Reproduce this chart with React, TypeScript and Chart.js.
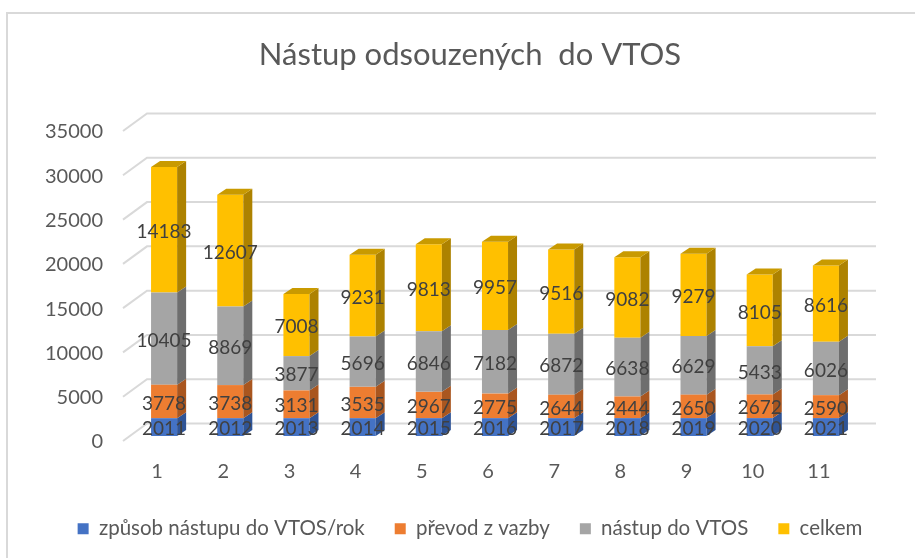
import React, { useEffect, useRef } from "react";
import { Chart, registerables } from "chart.js";

Chart.register(...registerables);

// ---- data ----
const categories = ["1", "2", "3", "4", "5", "6", "7", "8", "9", "10", "11"];
const seriesNames = ["způsob nástupu do VTOS/rok", "převod z vazby", "nástup do VTOS", "celkem"];
const rokValues = [2011, 2012, 2013, 2014, 2015, 2016, 2017, 2018, 2019, 2020, 2021];
const prevodValues = [3778, 3738, 3131, 3535, 2967, 2775, 2644, 2444, 2650, 2672, 2590];
const nastupValues = [10405, 8869, 3877, 5696, 6846, 7182, 6872, 6638, 6629, 5433, 6026];
const celkemValues = [14183, 12607, 7008, 9231, 9813, 9957, 9516, 9082, 9279, 8105, 8616];
const yMin = 0;
const yMax = 35000;
const yStep = 5000;

// ---- styles ----
const frontColors = ["#4472C4", "#ED7D31", "#A5A5A5", "#FFC000"];
const sideColors = ["#2F5496", "#A9561F", "#6E6E6E", "#AD8200"];
const topColors = ["#3A62A8", "#C9692A", "#8C8C8C", "#C99A00"];
const FONT = "Lato, 'Open Sans', sans-serif";
const TEXT = "#595959";
const LABEL = "#404040";
const GRID = "#D9D9D9";
const DX = 9;
const DY = -6;

const threeDPlugin = {
  id: "threeD",
  beforeDraw(chart: any) {
    const ctx = chart.ctx;
    ctx.save();
    ctx.fillStyle = "#ffffff";
    ctx.fillRect(0, 0, chart.width, chart.height);
    ctx.strokeStyle = GRID;
    ctx.lineWidth = 2;
    ctx.beginPath();
    ctx.moveTo(7, chart.height);
    ctx.lineTo(7, 13);
    ctx.lineTo(chart.width, 13);
    ctx.stroke();
    ctx.restore();
  },
  beforeDatasetsDraw(chart: any) {
    const ctx = chart.ctx;
    const ys = chart.scales.y;
    const area = chart.chartArea;
    ctx.save();
    ctx.strokeStyle = GRID;
    ctx.lineWidth = 2;
    ys.ticks.forEach((t: any) => {
      const p = ys.getPixelForValue(t.value);
      ctx.beginPath();
      ctx.moveTo(area.left - 8, p + 5);
      ctx.lineTo(area.left + 16, p - 12.5);
      ctx.lineTo(area.right + 17, p - 12.5);
      ctx.stroke();
    });
    ctx.restore();
  },
  afterDatasetsDraw(chart: any) {
    const ctx = chart.ctx;
    const n = chart.data.datasets.length;
    ctx.save();
    for (let d = 0; d < n; d++) {
      const meta = chart.getDatasetMeta(d);
      meta.data.forEach((bar: any) => {
        const { x, y, base, width } = bar.getProps(["x", "y", "base", "width"], true);
        const left = x - width / 2;
        const right = x + width / 2;
        const top = Math.min(y, base);
        const bottom = Math.max(y, base);
        ctx.fillStyle = sideColors[d];
        ctx.beginPath();
        ctx.moveTo(right, top);
        ctx.lineTo(right + DX, top + DY);
        ctx.lineTo(right + DX, bottom + DY);
        ctx.lineTo(right, bottom);
        ctx.closePath();
        ctx.fill();
        if (d === n - 1) {
          ctx.fillStyle = topColors[d];
          ctx.beginPath();
          ctx.moveTo(left, top);
          ctx.lineTo(left + DX, top + DY);
          ctx.lineTo(right + DX, top + DY);
          ctx.lineTo(right, top);
          ctx.closePath();
          ctx.fill();
        }
      });
    }
    ctx.fillStyle = LABEL;
    ctx.font = `19px ${FONT}`;
    ctx.textAlign = "center";
    ctx.textBaseline = "middle";
    for (let d = 0; d < n; d++) {
      const meta = chart.getDatasetMeta(d);
      const values = chart.data.datasets[d].data;
      meta.data.forEach((bar: any, i: number) => {
        const { x, y, base } = bar.getProps(["x", "y", "base"], true);
        ctx.fillText(String(values[i]), x, (y + base) / 2 + 2);
      });
    }
    ctx.restore();
  },
};

export default function App() {
  const ref = useRef<HTMLCanvasElement | null>(null);
  useEffect(() => {
    if (!ref.current) return;
    const seriesValues = [rokValues, prevodValues, nastupValues, celkemValues];
    const chart = new Chart(ref.current, {
      type: "bar",
      data: {
        labels: categories,
        datasets: seriesNames.map((name, i) => ({
          label: name,
          data: seriesValues[i],
          backgroundColor: frontColors[i],
          borderWidth: 0,
          categoryPercentage: 1,
          barPercentage: 0.394,
        })),
      },
      options: {
        animation: false,
        responsive: false,
        events: [],
        layout: { padding: { left: 40, right: 15, top: 0, bottom: 9 } },
        scales: {
          x: {
            stacked: true,
            grid: { display: false, drawTicks: false },
            border: { display: false },
            ticks: { color: TEXT, font: { family: FONT, size: 20 }, padding: 24, labelOffset: -7 },
            afterFit: (s: any) => { s.height = 52.5; },
          },
          y: {
            stacked: true,
            min: yMin,
            max: yMax,
            grid: { display: false, drawTicks: false },
            border: { display: false },
            ticks: {
              stepSize: yStep,
              color: TEXT,
              font: { family: FONT, size: 20 },
              padding: 28,
              labelOffset: 6,
              callback: (v: any) => String(v),
            },
            afterFit: (s: any) => { s.width = 91; },
          },
          yRight: {
            type: "linear",
            position: "right",
            display: true,
            grid: { display: false, drawTicks: false },
            border: { display: false },
            ticks: { display: false },
            afterFit: (s: any) => { s.width = 41; },
          },
        },
        plugins: {
          tooltip: { enabled: false },
          title: {
            display: true,
            text: "Nástup odsouzených  do VTOS",
            color: TEXT,
            font: { family: FONT, size: 31, weight: "normal" },
            padding: { top: 36.4, bottom: 52.4 },
          },
          legend: {
            position: "bottom",
            labels: {
              color: TEXT,
              font: { family: FONT, size: 20.5 },
              boxWidth: 11,
              boxHeight: 11,
              padding: 30,
            },
          },
        },
      },
      plugins: [threeDPlugin],
    });
    return () => chart.destroy();
  }, []);
  return (
    <div style={{ position: "fixed", left: 0, top: 0, width: 915, height: 558, background: "#fff" }}>
      <canvas ref={ref} width={915} height={558} style={{ display: "block" }} />
    </div>
  );
}
